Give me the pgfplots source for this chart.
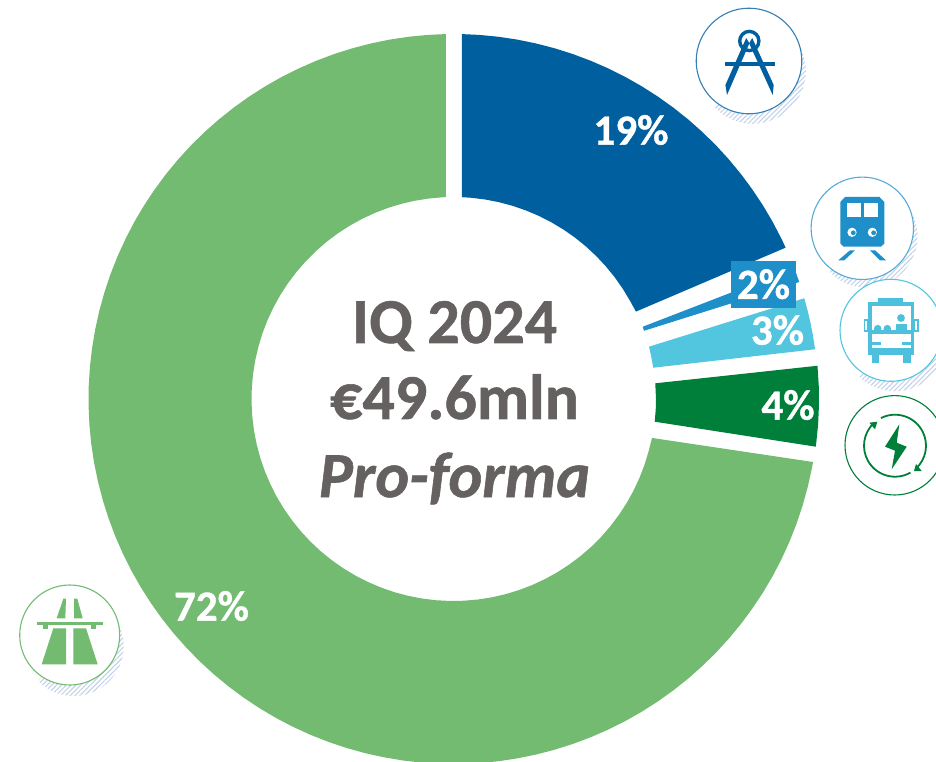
\documentclass[border=0pt]{standalone}
\usepackage{pgfplots}
\pgfplotsset{compat=1.18}
\usepackage{fontspec}
\setmainfont{Carlito}[BoldFeatures={FakeBold=0.9},BoldItalicFeatures={FakeBold=0.9}]
\usetikzlibrary{patterns.meta}
\definecolor{cA}{HTML}{00609F}
\definecolor{cB}{HTML}{1E8FC9}
\definecolor{cC}{HTML}{52C5DF}
\definecolor{cD}{HTML}{007F3B}
\definecolor{cE}{HTML}{72BB70}
\definecolor{txt}{HTML}{666161}
\definecolor{hatch}{HTML}{C3D2E8}
% #1 cx, #2 cy, #3 r, #4 colour, #5 dx, #6 dy of the hatched shadow
\newcommand\iconcircle[6]{%
  \fill[pattern={Lines[angle=45,distance=3.4pt,line width=1.1pt]},pattern color=hatch] (#1+#5,#2+#6) circle[radius=#3];
  \fill[white] (#1+#5-#3-2,#2+#6-#3-2) -- (#1+#5+#3+2,#2+#6-#3-2) -- (#1-#3,#2+#6+#3+2) -- cycle;
  \filldraw[fill=white,draw=#4,line width=1.1pt] (#1,#2) circle[radius=#3];
}
\begin{document}
\begin{tikzpicture}
\begin{axis}[name=a,hide axis,x=1pt,y=1pt,xmin=-453.5,xmax=482.5,ymin=-362,ymax=399,clip=true]
% Road
\addplot[fill=cE,draw=none,data cs=polar] coordinates {
(91.2,365)(94,365)(97,365)(100,365)(103,365)(106,365)(109,365)(112,365)(115,365)(118,365)(121,365)(124,365)(127,365)(130,365)(133,365)(136,365)(139,365)(142,365)(145,365)(148,365)(151,365)(154,365)(157,365)(160,365)(163,365)(166,365)(169,365)(172,365)(175,365)(178,365)(181,365)(184,365)(187,365)(190,365)(193,365)(196,365)(199,365)(202,365)(205,365)(208,365)(211,365)(214,365)(217,365)(220,365)(223,365)(226,365)(229,365)(232,365)(235,365)(238,365)(241,365)(244,365)(247,365)(250,365)(253,365)(256,365)(259,365)(262,365)(265,365)(268,365)(271,365)(274,365)(277,365)(280,365)(283,365)(286,365)(289,365)(292,365)(295,365)(298,365)(301,365)(304,365)(307,365)(310,365)(313,365)(316,365)(319,365)(322,365)(325,365)(328,365)(331,365)(334,365)(337,365)(340,365)(343,365)(346,365)(349,365)(350.06,365)
(348.9,202.3)(345,202)(341,202)(337,202)(333,202)(329,202)(325,202)(321,202)(317,202)(313,202)(309,202)(305,202)(301,202)(297,202)(293,202)(289,202)(285,202)(281,202)(277,202)(273,202)(269,202)(265,202)(261,202)(257,202)(253,202)(249,202)(245,202)(241,202)(237,202)(233,202)(229,202)(225,202)(221,202)(217,202)(213,202)(209,202)(205,202)(201,202)(197,202)(193,202)(189,202)(185,202)(181,202)(177,202)(173,202)(169,202)(165,202)(161,202)(157,202)(153,202)(149,202)(145,202)(141,202)(137,202)(133,202)(129,202)(125,202)(121,202)(117,202)(113,202)(109,202)(105,202)(101,202)(97,202)(93,202)(92.2,202)
};
% Engineering
\addplot[fill=cA,draw=none,data cs=polar] coordinates {
(88.67,365)(86,365)(83,365)(80,365)(77,365)(74,365)(71,365)(68,365)(65,365)(62,365)(59,365)(56,365)(53,365)(50,365)(47,365)(44,365)(41,365)(38,365)(35,365)(32,365)(29,365)(26,365)(24.5,365)
(25.6,202.3)(29,202)(33,202)(37,202)(41,202)(45,202)(49,202)(53,202)(57,202)(61,202)(65,202)(69,202)(73,202)(77,202)(81,202)(85,202)(87.6,202)
};
% Rail
\addplot[fill=cB,draw=none,data cs=polar] coordinates {
(21,365)(20,365)(18.7,365)(19.7,202.4)(20.9,202.5)
};
% Bus
\addplot[fill=cC,draw=none,data cs=polar] coordinates {
(16.02,365)(14,365)(12,365)(10,365)(7.83,365)(8.9,202.2)(12,202.2)(14.98,202.4)
};
% Energy
\addplot[fill=cD,draw=none,data cs=polar] coordinates {
(5.22,365.5)(2,365.5)(-1,365.5)(-4,365.5)(-7.5,365.5)(-6.44,202.5)(-3,202.5)(0,202.5)(4.45,202.4)
};
% Texts (axis units are picture pixels, measured from the ring's centre)
\node[font=\fontsize{43}{43}\selectfont\bfseries,text=white] at (axis cs:177.5,269) {19\%};
\node[font=\fontsize{43}{43}\selectfont\bfseries,text=white,fill=cB,minimum width=65pt,minimum height=47pt,inner sep=0pt] at (axis cs:310,114.8) {2\%};
\node[font=\fontsize{43}{43}\selectfont\bfseries,text=white] at (axis cs:324,69) {3\%};
\node[font=\fontsize{43}{43}\selectfont\bfseries,text=white] at (axis cs:334.5,-6) {4\%};
\node[font=\fontsize{43}{43}\selectfont\bfseries,text=white] at (axis cs:-242,-207) {72\%};
\node[font=\fontsize{64}{64}\selectfont\bfseries,text=txt,anchor=base] at (axis cs:1,56) {IQ 2024};
\node[font=\fontsize{64}{64}\selectfont\bfseries,text=txt,anchor=base] at (axis cs:1,-20) {€49.6mln};
\node[font=\fontsize{64}{64}\selectfont\bfseries\itshape,text=txt,anchor=base] at (axis cs:1,-98) {Pro-forma};
\end{axis}
% Icons, in the picture's own pixel coordinates
\begin{scope}[shift={(a.north west)},x=1pt,y=-1pt]
\path[use as bounding box] (0,0) rectangle (936,761);
\clip (0,0) rectangle (936,761);
% compass
\iconcircle{749}{61}{52.8}{cA!80!white}{4}{10}
\draw[cA,line width=3.4pt] (749.3,41) circle[radius=9.6];
\fill[cA] (724.5,62.2) rectangle (774.5,66);
\fill[cA] (746.2,38)--(749.4,43.3)--(727,95)--(725.4,85)--cycle;
\fill[cA] (752.2,38)--(749.1,43.3)--(772.7,95)--(773.7,85)--cycle;
% train
\iconcircle{862.3}{228.3}{51.2}{cB!75!white}{4}{8}
\fill[cB] (845,197)--(879.5,197)--(884.3,202)--(884.3,243.5)--(881,246.7)--(843.5,246.7)--(840.3,243.5)--(840.3,202)--cycle;
\fill[white] (847.3,203.3) rectangle (860.7,217);
\fill[white] (864.3,203.3) rectangle (877.7,217);
\fill[white] (852,232.3) circle[radius=4.6];
\fill[white] (872.3,232.3) circle[radius=4.6];
\fill[cB] (853.3,232.8) circle[radius=2.4];
\fill[cB] (873.6,232.8) circle[radius=2.4];
\fill[cB] (838.3,260.3)--(850,250.3)--(855,250.3)--(844.3,260.3)--cycle;
\fill[cB] (870,250.3)--(875,250.3)--(886,260.3)--(880,260.3)--cycle;
% bus
\iconcircle{891}{330.3}{51}{cC}{4}{10}
\fill[cC!90!cB] (878.3,298) rectangle (903.3,302);
\fill[cC!90!cB] (868.3,302) rectangle (914.3,355.3);
\fill[white] (871.7,306) rectangle (911,330.3);
\fill[white] (871.7,333.7) rectangle (911,348);
\fill[cC!90!cB] (871.7,342) rectangle (881,345.5);
\fill[cC!90!cB] (901.5,342) rectangle (911,345.5);
\fill[cC!90!cB] (871.7,355) rectangle (879,362.7);
\fill[cC!90!cB] (903.3,355) rectangle (910.7,362.7);
\draw[cC!90!cB,line width=1.8pt] (868.3,320) rectangle (864.5,331);
\draw[cC!90!cB,line width=1.8pt] (914.3,320) rectangle (918.1,331);
\fill[cC!90!cB] (877.7,328.7) circle[radius=3.8];
\fill[cC!90!cB] (887.3,328.7) circle[radius=3.8];
\fill[cC!90!cB] (901,318) circle[radius=3.9];
\fill[cC!90!cB] (896.3,323.7) rectangle (906.7,332);
% energy
\iconcircle{894.7}{445.3}{49.7}{cD}{0}{0}
\draw[cD,line width=1.8pt] (895,445.7) ++(-117:31) arc[start angle=-117,end angle=48,radius=31];
\draw[cD,line width=1.8pt] (895,445.7) ++(60:31) arc[start angle=60,end angle=226,radius=31];
\fill[cD] (869.3,422.7)--(877.3,421.7)--(875,429.3)--cycle;
\fill[cD] (921.7,471)--(914,471)--(916,464)--cycle;
\fill[cD] (899.3,424.3)--(885,446.7)--(895,450.7)--(891.7,469.3)--(906.7,446.7)--(896.7,442.7)--cycle;
% motorway
\iconcircle{69.7}{635}{50}{cE}{4}{11}
\fill[cE] (63.3,598.7)--(66,598.7)--(65.3,618.3)--(56.7,618.3)--cycle;
\fill[cE] (74,598.7)--(77.3,598.7)--(82.7,618.3)--(74,618.3)--cycle;
\fill[cE] (36.7,621.7) rectangle (102.7,625.3);
\fill[cE] (43.3,625.3) rectangle (48.3,629);
\fill[cE] (90.7,625.3) rectangle (95.7,629);
\fill[cE] (53.3,628.3)--(66,628.3)--(66,664.3)--(41.7,664.3)--cycle;
\fill[cE] (73.3,628.3)--(86,628.3)--(97.7,664.3)--(73.3,664.3)--cycle;
\end{scope}
\end{tikzpicture}
\end{document}
